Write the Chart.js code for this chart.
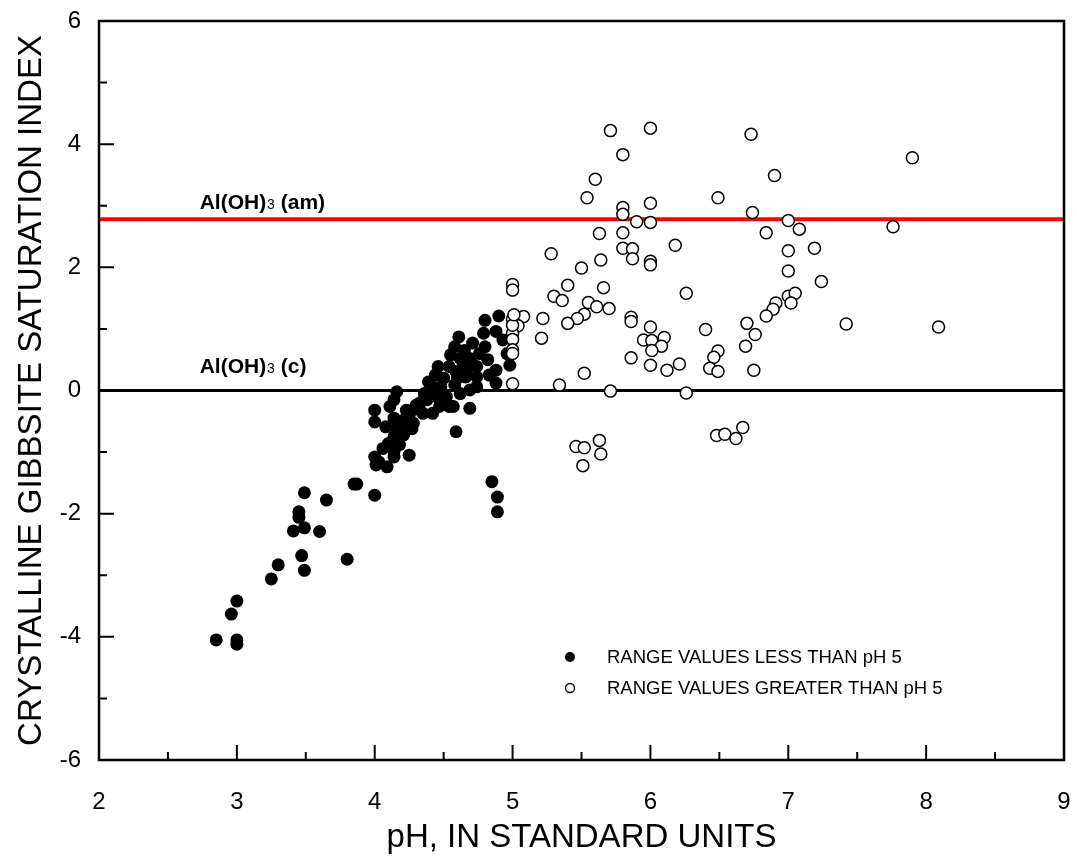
<!DOCTYPE html>
<html>
<head>
<meta charset="utf-8">
<script src="https://cdn.jsdelivr.net/npm/chart.js@4.4.0/dist/chart.umd.min.js"></script>
<style>
  body { margin: 0; background: #fff; }
</style>
</head>
<body>
<canvas id="gibbsiteChart" width="1077" height="861"></canvas>
<script>
// samples with pH below 5 (filled circles)
let lowPH = [2.85, 3.00, 3.00, 2.96, 3.00, 3.25, 3.30, 3.49, 3.47, 3.80, 3.41, 3.49, 3.60, 3.45, 3.45, 3.49,
  3.65, 3.85, 3.87, 4.00, 4.85, 4.89, 4.89, 4.01, 4.09, 4.03, 4.00, 4.14, 4.25, 4.14, 4.06, 4.18, 4.10, 4.14,
  4.21, 4.08, 4.16, 4.59, 4.00, 4.14, 4.21, 4.28, 4.00, 4.11, 4.23, 4.30, 4.35, 4.42, 4.54, 4.47, 4.57, 4.69,
  4.14, 4.38, 4.16, 4.40, 4.52, 4.62, 4.69, 4.39, 4.48, 4.58, 4.74, 4.88, 4.44, 4.59, 4.66, 4.74, 4.46, 4.54,
  4.64, 4.74, 4.88, 4.98, 4.55, 4.62, 4.69, 4.76, 4.96, 4.58, 4.71, 4.80, 4.93, 4.61, 4.79, 4.88, 4.80, 4.90,
  4.25, 4.33, 4.45, 4.50, 4.60, 4.70, 4.82, 4.83, 4.65, 4.17, 4.20, 4.30, 4.36, 4.43, 4.27, 4.52, 4.67];
let lowSI = [-4.05, -4.05, -4.12, -3.63, -3.42, -3.06, -2.83, -2.92, -2.68, -2.74, -2.28, -2.23, -2.29, -1.97, -2.06, -1.66,
  -1.78, -1.52, -1.52, -1.70, -1.48, -1.73, -1.97, -1.21, -1.24, -1.16, -1.08, -1.08, -1.05, -0.99, -0.94, -0.88, -0.86, -0.75,
  -0.72, -0.59, -0.61, -0.67, -0.51, -0.45, -0.48, -0.53, -0.32, -0.26, -0.32, -0.24, -0.37, -0.37, -0.26, -0.26, -0.26, -0.29,
  -0.15, -0.15, -0.02, -0.05, -0.10, -0.05, 0.01, 0.14, 0.06, 0.09, 0.06, 0.12, 0.25, 0.31, 0.22, 0.22, 0.39, 0.39,
  0.39, 0.39, 0.33, 0.41, 0.58, 0.52, 0.52, 0.60, 0.60, 0.71, 0.77, 0.71, 0.82, 0.87, 0.93, 0.96, 1.14, 1.21,
  -0.40, -0.20, -0.10, 0.20, 0.20, 0.45, 0.50, 0.25, 0.65, -0.80, -0.60, -0.30, -0.05, 0.05, -0.62, -0.20, 0.35];

// samples with pH above 5 (open circles)
let highPH = [5.71, 6.00, 5.80, 5.60, 5.54, 6.49, 5.80, 5.80, 6.00, 5.90, 6.00, 5.63, 5.80, 5.80, 5.87, 5.87,
  6.00, 6.00, 6.18, 5.28, 5.50, 5.64, 5.00, 5.00, 5.40, 5.30, 5.36, 5.66, 6.26, 5.55, 5.61, 5.70, 5.52, 5.47,
  5.40, 5.22, 5.08, 5.00, 5.04, 5.00, 5.00, 5.21, 5.00, 5.00, 5.86, 5.86, 6.00, 5.95, 6.01, 6.10, 6.08, 6.01,
  5.86, 6.00, 6.21, 6.12, 6.40, 6.49, 6.46, 6.43, 6.49, 5.52, 5.34, 5.00, 5.71, 6.26, 6.70, 6.69, 6.76, 6.75,
  6.73, 6.74, 7.90, 6.90, 7.00, 7.08, 6.84, 7.76, 7.00, 7.19, 7.00, 7.24, 7.00, 7.05, 7.02, 6.91, 6.89, 6.84,
  7.42, 8.09, 5.46, 5.52, 5.63, 5.64, 5.51, 6.48, 6.54, 6.62, 6.67, 5.00, 5.01];
let highSI = [4.22, 4.26, 3.83, 3.43, 3.13, 3.13, 2.97, 2.86, 3.04, 2.74, 2.73, 2.55, 2.56, 2.31, 2.30, 2.14,
  2.10, 2.04, 2.36, 2.22, 1.99, 2.12, 1.72, 1.63, 1.71, 1.53, 1.46, 1.67, 1.58, 1.43, 1.36, 1.33, 1.24, 1.17,
  1.09, 1.17, 1.20, 1.16, 1.05, 0.93, 0.83, 0.85, 0.66, 0.60, 1.19, 1.12, 1.03, 0.82, 0.81, 0.86, 0.72, 0.65,
  0.53, 0.41, 0.43, 0.33, 0.99, 0.64, 0.54, 0.36, 0.31, 0.28, 0.09, 0.11, -0.01, -0.04, 1.09, 0.72, 0.91, 0.33,
  4.16, 2.89, 3.78, 3.49, 2.76, 2.62, 2.56, 2.66, 2.27, 2.31, 1.94, 1.77, 1.53, 1.58, 1.42, 1.42, 1.32, 1.21,
  1.08, 1.03, -0.91, -0.93, -0.81, -1.03, -1.22, -0.73, -0.71, -0.78, -0.60, 1.06, 1.23];

let amorphousSI = 2.78;   // Al(OH)3 (am)
let crystallineSI = 0;    // Al(OH)3 (c)

let xTicks = [2, 3, 4, 5, 6, 7, 8, 9];
let xMinorTicks = [2.5, 3.5, 4.5, 5.5, 6.5, 7.5, 8.5];
let yTicks = [-6, -4, -2, 0, 2, 4, 6];
let yMinorTicks = [-5, -3, -1, 1, 3, 5];

let legendLabels = ['RANGE VALUES LESS THAN pH 5', 'RANGE VALUES GREATER THAN pH 5'];

const FONT = '"Liberation Sans", Arial, sans-serif';

function toPoints(xs, ys) {
  return xs.map((v, i) => ({ x: v, y: ys[i] }));
}

// inward ticks + frame
let frameTicks = {
  id: 'frameTicks',
  afterDatasetsDraw(chart) {
    let ctx = chart.ctx;
    let a = chart.chartArea;
    let xs = chart.scales.x;
    let ys = chart.scales.y;
    ctx.save();
    ctx.strokeStyle = '#000';
    ctx.lineWidth = 2;
    ctx.beginPath();
    xTicks.forEach(v => {
      let px = xs.getPixelForValue(v);
      ctx.moveTo(px, a.bottom); ctx.lineTo(px, a.bottom - 15);
    });
    xMinorTicks.forEach(v => {
      let px = xs.getPixelForValue(v);
      ctx.moveTo(px, a.bottom); ctx.lineTo(px, a.bottom - 8);
    });
    yTicks.forEach(v => {
      let py = ys.getPixelForValue(v);
      ctx.moveTo(a.left, py); ctx.lineTo(a.left + 15, py);
    });
    yMinorTicks.forEach(v => {
      let py = ys.getPixelForValue(v);
      ctx.moveTo(a.left, py); ctx.lineTo(a.left + 8, py);
    });
    ctx.stroke();
    ctx.lineWidth = 2.5;
    ctx.strokeRect(a.left, a.top, a.right - a.left, a.bottom - a.top);
    ctx.restore();
  }
};

function drawFormula(ctx, x, y, phase) {
  ctx.font = 'bold 21px ' + FONT;
  ctx.fillText('Al(OH)', x, y);
  let w = ctx.measureText('Al(OH)').width;
  ctx.font = '14px ' + FONT;
  ctx.fillText('3', x + w + 1, y);
  let w2 = ctx.measureText('3').width + 1;
  ctx.font = 'bold 21px ' + FONT;
  ctx.fillText(' ' + phase, x + w + w2, y);
}

let labelsAndLegend = {
  id: 'labelsAndLegend',
  afterDraw(chart) {
    let ctx = chart.ctx;
    let a = chart.chartArea;
    let xs = chart.scales.x;
    let ys = chart.scales.y;
    ctx.save();
    ctx.fillStyle = '#000';
    ctx.textBaseline = 'alphabetic';
    let lx = xs.getPixelForValue(2.73);
    drawFormula(ctx, lx, ys.getPixelForValue(amorphousSI) - 10, '(am)');
    drawFormula(ctx, lx, ys.getPixelForValue(crystallineSI) - 18, '(c)');

    // legend
    let mx = a.left + 471;
    let row1 = a.top + 636;
    let row2 = row1 + 31;
    ctx.beginPath();
    ctx.arc(mx, row1, 5, 0, Math.PI * 2);
    ctx.fill();
    ctx.beginPath();
    ctx.arc(mx, row2, 4.5, 0, Math.PI * 2);
    ctx.fillStyle = '#fff';
    ctx.fill();
    ctx.lineWidth = 1.3;
    ctx.strokeStyle = '#000';
    ctx.stroke();
    ctx.fillStyle = '#000';
    ctx.font = '18.5px ' + FONT;
    ctx.textBaseline = 'middle';
    ctx.fillText(legendLabels[0], mx + 37, row1 + 1);
    ctx.fillText(legendLabels[1], mx + 37, row2 + 1);
    ctx.restore();
  }
};

let ctxChart = document.getElementById('gibbsiteChart').getContext('2d');

let gibbsiteChart = new Chart(ctxChart, {
  type: 'scatter',
  data: {
    datasets: [{
      label: legendLabels[1],
      data: toPoints(highPH, highSI),
      pointRadius: 6,
      pointBackgroundColor: '#fff',
      pointBorderColor: '#000',
      pointBorderWidth: 1.5
    }, {
      label: legendLabels[0],
      data: toPoints(lowPH, lowSI),
      pointRadius: 6.5,
      pointBackgroundColor: '#000',
      pointBorderColor: '#000',
      pointBorderWidth: 0
    }, {
      label: 'Al(OH)3 (c)',
      data: [{ x: 2, y: crystallineSI }, { x: 9, y: crystallineSI }],
      showLine: true,
      borderColor: '#000',
      borderWidth: 3,
      pointRadius: 0
    }, {
      label: 'Al(OH)3 (am)',
      data: [{ x: 2, y: amorphousSI }, { x: 9, y: amorphousSI }],
      showLine: true,
      borderColor: '#ff0000',
      borderWidth: 4,
      pointRadius: 0
    }]
  },
  options: {
    responsive: false,
    animation: false,
    layout: {
      padding: { top: 21, right: 13, left: 0, bottom: 0 }
    },
    plugins: {
      legend: { display: false },
      tooltip: { enabled: false }
    },
    scales: {
      x: {
        type: 'linear',
        min: 2,
        max: 9,
        afterBuildTicks: scale => { scale.ticks = xTicks.map(v => ({ value: v })); },
        afterFit: scale => {
          scale.height = 101;
          scale.paddingLeft = 0;
          scale.paddingRight = 13;
        },
        grid: { display: false },
        border: { display: false },
        ticks: {
          color: '#000',
          padding: 20,
          font: { family: FONT, size: 24 }
        },
        title: {
          display: true,
          text: 'pH, IN STANDARD UNITS',
          color: '#000',
          font: { family: FONT, size: 33 },
          padding: { top: 0, bottom: 3 }
        }
      },
      y: {
        type: 'linear',
        min: -6,
        max: 6,
        afterBuildTicks: scale => { scale.ticks = yTicks.map(v => ({ value: v })); },
        afterFit: scale => {
          scale.width = 99;
          scale.paddingTop = 21;
          scale.paddingBottom = 0;
        },
        grid: { display: false },
        border: { display: false },
        ticks: {
          color: '#000',
          padding: 10,
          font: { family: FONT, size: 24 }
        },
        title: {
          display: true,
          text: 'CRYSTALLINE GIBBSITE SATURATION INDEX',
          color: '#000',
          font: { family: FONT, size: 33 },
          padding: { top: 12, bottom: 0 }
        }
      }
    }
  },
  plugins: [frameTicks, labelsAndLegend]
});
</script>
</body>
</html>
